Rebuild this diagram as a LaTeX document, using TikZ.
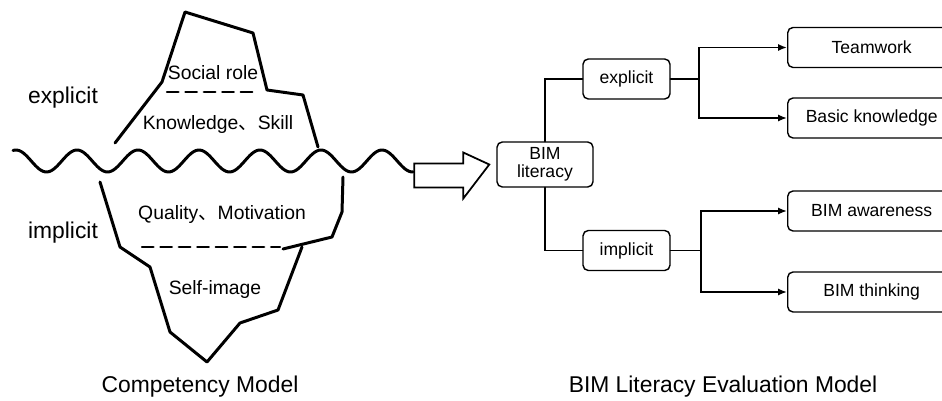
\documentclass[tikz,border=0pt]{standalone}
\usepackage{fontspec}
\setmainfont{Liberation Sans}
\newfontfamily\cjk{Noto Sans CJK SC}
\usetikzlibrary{arrows.meta}
\tikzset{
  box/.style={draw, line width=.8pt, rounded corners=3pt, inner sep=1pt, align=center, font=\fontsize{10}{10.5}\selectfont},
  leafbox/.style={box, anchor=west, minimum width=3.36cm, minimum height=.8cm},
  wire/.style={line width=1.1pt},
  berg/.style={line width=1.7pt, line join=round},
  cut/.style={line width=1.4pt, dash pattern={on 6.5pt off 4pt}},
  side/.style={font=\fontsize{13}{13}\selectfont},
  inner/.style={font=\fontsize{11}{11}\selectfont}
}
\begin{document}
\begin{tikzpicture}[x=0.02cm, y=-0.02cm, >={Latex[length=5pt,width=4pt]}, line cap=round]
\useasboundingbox (0,0) rectangle (942,401);
\clip (0,0) rectangle (942,401);
% iceberg
\draw[berg] (115,143)--(162,82)--(185,12)--(253,33)--(267,90)--(303,95)--(318,147);
\draw[berg] (343,177)--(342,212)--(332,237)--(283,249);
\draw[berg] (302,247)--(278,310)--(240,323)--(207,362)--(170,332)--(150,267)--(120,247)--(100,182);
\draw[cut] (167,92)--(257,92);
\draw[cut] (142,247)--(280,247);
% sea surface
\draw[berg, smooth, samples=200, domain=13:413] plot(\x,{161-11*cos(5.9016*(\x-16))});
\node[inner] (role) at (213,73) {Social role};
\node[inner] (know) at (218,125) {Knowledge{\cjk 、}Skill};
\node[inner] (qual) at (222,215) {Quality{\cjk 、}Motivation};
\node[inner] (self) at (215,290) {Self-image};
\node[side] (lexpl) at (63,98) {explicit};
\node[side] (limpl) at (63,233) {implicit};
\node[side] (cmodel) at (200,387) {Competency Model};
% evaluation model
\node[box, minimum width=1.92cm, minimum height=.9cm] (bim) at (545,164.5) {BIM\\literacy};
\node[box, minimum width=1.74cm, minimum height=.8cm] (expl) at (626.5,79) {explicit};
\node[box, minimum width=1.74cm, minimum height=.8cm] (impl) at (626.5,250.5) {implicit};
\node[leafbox] (team) at (787,47.5) {Teamwork};
\node[leafbox] (basic) at (787,118) {Basic knowledge};
\node[leafbox] (aware) at (787,211) {BIM awareness};
\node[leafbox] (think) at (787,292) {BIM thinking};
\node[side] (emodel) at (723,387) {BIM Literacy Evaluation Model};
\draw[line width=1pt, line join=miter] ([xshift=-4pt]bim.west) -- ++(-26,-12) -- ++(0,11) -- ++(-49,0) -- ++(0,24) -- ++(49,0) -- ++(0,11) -- cycle;
\draw[wire] (bim.north) |- (expl.west);
\draw[wire] (bim.south) |- (impl.west);
\draw[wire] (expl.east) -- ++(28,0) coordinate (fe);
\draw[wire, ->] (fe) |- (team.west);
\draw[wire, ->] (fe) |- (basic.west);
\draw[wire] (impl.east) -- ++(30,0) coordinate (fi);
\draw[wire, ->] (fi) |- (aware.west);
\draw[wire, ->] (fi) |- (think.west);
\end{tikzpicture}
\end{document}
